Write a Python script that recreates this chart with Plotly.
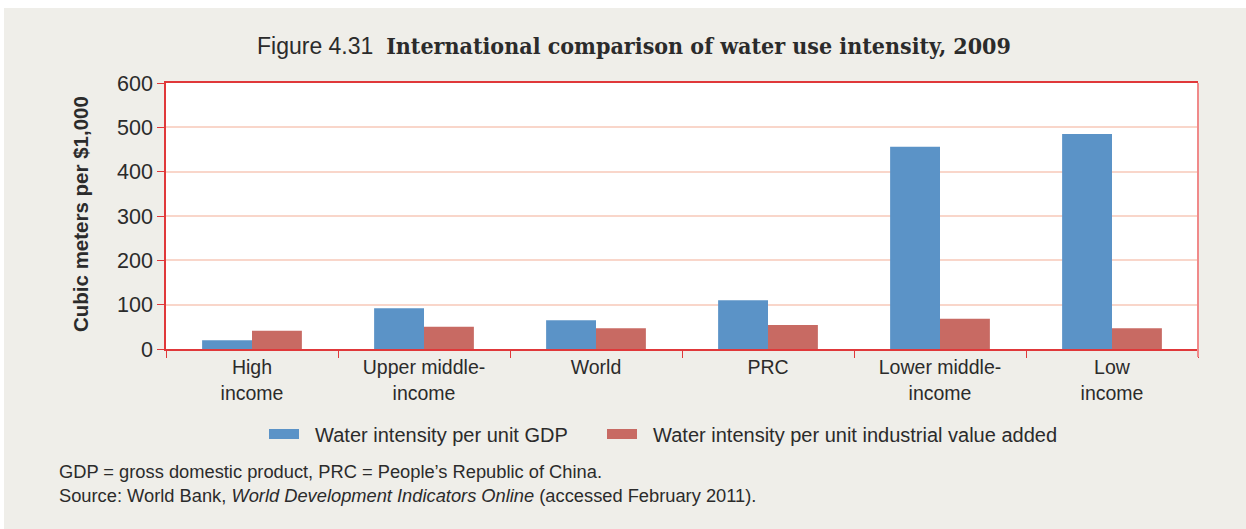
import plotly.graph_objects as go

categories = ["High<br>income", "Upper middle-<br>income", "World", "PRC", "Lower middle-<br>income", "Low<br>income"]
gdp_intensity = [20, 92, 65, 110, 456, 485]
industrial_intensity = [41, 50, 47, 54, 68, 47]
series_names = ["Water intensity per unit GDP", "Water intensity per unit industrial value added"]
y_ticks = [0, 100, 200, 300, 400, 500, 600]

BG = "#EFEEE9"
BLUE = "#5B93C7"
RED = "#C86A63"
AXIS = "#E0383A"
GRID = "#F9D6CA"
TXT = "#2b2b2b"

W, H = 1246, 529
XOFF, YOFF = 4, 8  # page offset of the figure inside the browser window
# plot area in screen coordinates: x 166..1198, y 83..349
L = 166 - XOFF
R = W - (1198 - XOFF)
T = 83 - YOFF
B = H - (349 - YOFF)
pw, ph = W - L - R, H - T - B

def px(sx):
    return (sx - XOFF - L) / pw

def py(sy):
    return (H - B - (sy - YOFF)) / ph

fig = go.Figure()
fig.add_bar(x=categories, y=gdp_intensity, name=series_names[0], marker_color=BLUE,
            marker_line_width=0, showlegend=False)
fig.add_bar(x=categories, y=industrial_intensity, name=series_names[1], marker_color=RED,
            marker_line_width=0, showlegend=False)
# legend entries (rectangular swatches), one legend each for exact placement
for name, col, lg in zip(series_names, [BLUE, RED], ["legend", "legend2"]):
    fig.add_scatter(x=[None], y=[None], mode="lines", name="\u00a0\u00a0" + name, legend=lg,
                    line=dict(color=col, width=16), hoverinfo="skip")

font_main = "Liberation Sans, Arial, sans-serif"
legend_common = dict(orientation="h", yanchor="middle", xanchor="left",
                     font=dict(size=20, color=TXT), bgcolor="rgba(0,0,0,0)",
                     itemsizing="trace", itemwidth=30)

fig.update_layout(
    width=W, height=H,
    margin=dict(l=L, r=R, t=T, b=B, autoexpand=False),
    paper_bgcolor=BG, plot_bgcolor="white",
    barmode="group", bargap=0.42, bargroupgap=0,
    font=dict(family=font_main, size=20, color=TXT),
    showlegend=True,
    legend=dict(x=px(264), y=py(434), **legend_common),
    legend2=dict(x=px(602), y=py(434), **legend_common),
    xaxis=dict(type="category", showline=True, linecolor=AXIS, linewidth=1.5, mirror=True,
               ticks="outside", tickson="boundaries", ticklen=7, tickcolor=AXIS, tickwidth=1,
               tickfont=dict(size=19.5, color=TXT), showgrid=False, fixedrange=True),
    yaxis=dict(range=[0, 600], tickvals=y_ticks, showline=True, linecolor=AXIS, linewidth=1.5,
               ticks="outside", ticklen=7, tickcolor=AXIS, tickwidth=1,
               showgrid=True, gridcolor=GRID, gridwidth=1.5, zeroline=False,
               tickfont=dict(size=21.5, color=TXT), fixedrange=True),
)

# right border in pink
fig.add_shape(type="line", xref="paper", yref="paper", x0=1, x1=1, y0=py(357), y1=1,
              line=dict(color="#F08A8A", width=2))

title_text = ("<span style='font-family:Liberation Sans Narrow, Arial Narrow, sans-serif'>Figure 4.31</span>"
              "  <span style='font-family:DejaVu Serif Condensed, DejaVu Serif, serif'><b>International comparison of water use intensity, 2009</b></span>")
fig.add_annotation(text=title_text, xref="paper", yref="paper", x=px(634), y=py(46),
                   xanchor="center", yanchor="middle", showarrow=False,
                   font=dict(size=23, color=TXT))

fig.add_annotation(text="<b>Cubic meters per $1,000</b>", xref="paper", yref="paper",
                   x=px(81), y=py(214), xanchor="center", yanchor="middle", textangle=-90,
                   showarrow=False, font=dict(size=20.5, color=TXT))

fig.add_annotation(text="GDP = gross domestic product, PRC = People\u2019s Republic of China.",
                   xref="paper", yref="paper", x=px(57), y=py(471), xanchor="left", yanchor="middle",
                   showarrow=False, font=dict(size=18.3, color=TXT))
fig.add_annotation(text="Source: World Bank, <i>World Development Indicators Online</i> (accessed February 2011).",
                   xref="paper", yref="paper", x=px(57), y=py(495), xanchor="left", yanchor="middle",
                   showarrow=False, font=dict(size=18.3, color=TXT))

fig.write_html("out.html", post_script="document.body.style.margin='8px 0 0 4px';")
